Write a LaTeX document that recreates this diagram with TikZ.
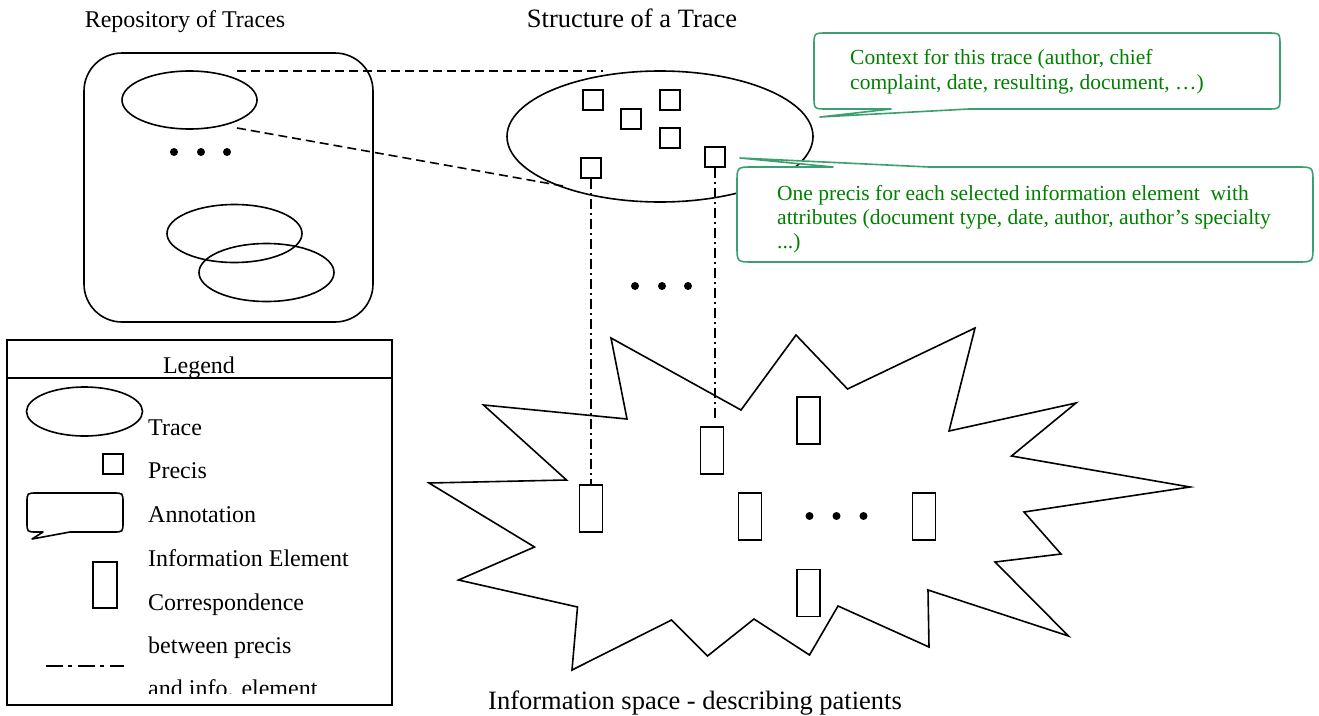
\documentclass[tikz,border=0pt]{standalone}
\usepackage{fontspec}
\setmainfont{Liberation Serif}
\usetikzlibrary{shapes.geometric}
\definecolor{cgreen}{RGB}{0,128,0}
\definecolor{cborder}{RGB}{60,160,110}
\begin{document}
\begin{tikzpicture}[x=1pt,y=-1pt,
  lw/.style={line width=1.6pt},
  trace/.style={ellipse, draw, line width=1.6pt, minimum width=135pt, minimum height=58pt, inner sep=0pt},
  precis/.style={rectangle, draw, line width=1.6pt, minimum size=20pt, inner sep=0pt},
  infoel/.style={rectangle, draw, line width=1.6pt, minimum width=23pt, minimum height=47pt, inner sep=0pt},
  link/.style={line width=1.6pt, dash pattern=on 9pt off 5pt},
  corr/.style={line width=1.6pt, dash pattern=on 10pt off 4pt on 2pt off 4pt},
  dotmark/.style={circle, fill=black, inner sep=0pt, minimum size=8pt},
  title/.style={font=\fontsize{24}{28}\selectfont, anchor=base, inner sep=0pt},
  bigtitle/.style={font=\fontsize{26.5}{30}\selectfont, anchor=base, inner sep=0pt},
  legtext/.style={font=\fontsize{24}{28}\selectfont, anchor=base west, inner sep=0pt},
  note/.style={font=\fontsize{21.5}{25}\selectfont, text=cgreen, anchor=base west, inner sep=0pt},
  callout/.style={draw=cborder, line width=1.6pt, fill=white, line join=round},
]
\useasboundingbox (0,0) rectangle (1319,715);

% titles
\node[title] (reptitle) at (185,27) {Repository of Traces};
\node[bigtitle] (strtitle) at (632,27) {Structure of a Trace};
\node[bigtitle] (infotitle) at (695,709) {Information space - describing patients};

% repository
\node[draw, line width=1.6pt, rounded corners=38pt, minimum width=289pt, minimum height=269pt, inner sep=0pt] (repo) at (228.5,187.5) {};
\node[trace] (t1) at (189.5,100) {};
\node[trace] (t2) at (234.5,233.5) {};
\node[trace] (t3) at (266.5,272.5) {};
\node[dotmark] (rd1) at (174,152) {};
\node[dotmark] (rd2) at (201,152) {};
\node[dotmark] (rd3) at (227,152) {};

% structure of a trace
\node[ellipse, draw, line width=1.6pt, minimum width=306pt, minimum height=131pt, inner sep=0pt] (big) at (660,136.5) {};
\node[precis] (p1) at (593,100) {};
\node[precis] (p2) at (670,100) {};
\node[precis] (p3) at (631,119) {};
\node[precis] (p4) at (670,138) {};
\node[precis] (p5) at (591,168) {};
\node[precis] (p6) at (715,157) {};

\coordinate (a1) at (237,71);
\coordinate (b1) at (603,71);
\coordinate (a2) at (237,128);
\coordinate (b2) at (563,186);
\draw[link] (a1) -- (b1);
\draw[link] (a2) -- (b2);

\node[dotmark] (md1) at (635,286) {};
\node[dotmark] (md2) at (662,286) {};
\node[dotmark] (md3) at (688,286) {};

% information space
\draw[lw] (611,338) -- (627,419) -- (483.5,405) -- (566.5,480) -- (429,483) -- (534.5,547) -- (458.5,580) -- (577.5,607) -- (572,670) -- (671.5,620) -- (707.5,656) -- (754,619) -- (809.5,655) -- (838,606) -- (929,647) -- (928,590) -- (1068.5,636) -- (995,562) -- (1061,554) -- (1024,512) -- (1190,487) -- (1011.5,456) -- (1076,403) -- (949,431) -- (975,328) -- (847.5,389) -- (796,335) -- (741,410) -- cycle;

\node[infoel] (e1) at (591,508.5) {};
\node[infoel] (e2) at (712,450.5) {};
\node[infoel] (e3) at (808.5,420.5) {};
\node[infoel] (e4) at (750,516.5) {};
\node[infoel] (e5) at (924,516.5) {};
\node[infoel] (e6) at (808.5,593) {};
\node[dotmark] (sd1) at (809.5,516) {};
\node[dotmark] (sd2) at (836.5,516) {};
\node[dotmark] (sd3) at (863.5,516) {};

\coordinate (c6) at (715,418);
\draw[corr] (p5.south) -- (e1.north);
\draw[corr] (p6.south) -- (c6);

% callouts
\draw[callout] (891,109) -- (820,117) -- (969,109) -- (1267,109) .. controls (1280,109) .. (1280,96) -- (1280,46) .. controls (1280,33) .. (1267,33) -- (827,33) .. controls (814,33) .. (814,46) -- (814,96) .. controls (814,109) .. (827,109) -- cycle;
\node[note] (n1a) at (850,64) {Context for this trace (author, chief};
\node[note] (n1b) at (850,89) {complaint, date, resulting, document, …)};

\draw[callout] (833,167) -- (740,158) -- (929,167) -- (1297,167) .. controls (1313,167) .. (1313,183) -- (1313,246) .. controls (1313,262) .. (1297,262) -- (753,262) .. controls (737,262) .. (737,246) -- (737,183) .. controls (737,167) .. (753,167) -- cycle;
\node[note] (n2a) at (777,200) {One precis for each selected information element\ \ with};
\node[note] (n2b) at (777,224) {attributes (document type, date, author, author’s specialty};
\node[note] (n2c) at (777,248) {...)};

% legend
\node[draw, line width=1.6pt, minimum width=385pt, minimum height=365pt, inner sep=0pt] (legend) at (199.5,522.5) {};
\coordinate (lh1) at (7,378);
\coordinate (lh2) at (392,378);
\draw[lw] (lh1) -- (lh2);
\node[title] (legtitle) at (199,373) {Legend};

\node[trace, minimum width=116pt, minimum height=49pt] (lt) at (84.5,411.5) {};
\node[precis] (lp) at (113,464) {};
\draw[draw=black, line width=1.6pt, line join=round] (70,532) -- (32,539) -- (43,532) -- (37,532) .. controls (27,532) .. (27,522) -- (27,503) .. controls (27,493) .. (37,493) -- (113,493) .. controls (123,493) .. (123,503) -- (123,522) .. controls (123,532) .. (113,532) -- cycle;
\node[infoel, minimum width=24pt, minimum height=46pt] (le) at (105,585) {};
\coordinate (lc1) at (46,666);
\coordinate (lc2) at (124,666);
\draw[line width=1.6pt, dash pattern=on 17pt off 5pt on 4pt off 6pt] (lc1) -- (lc2);

\node[legtext] (lt1) at (148,435) {Trace};
\node[legtext] (lt2) at (148,478) {Precis};
\node[legtext] (lt3) at (148,522) {Annotation};
\node[legtext] (lt4) at (148,566) {Information Element};
\node[legtext] (lt5) at (148,610) {Correspondence};
\node[legtext] (lt6) at (148,653) {between precis};
\begin{scope}
\clip (8,600) rectangle (391,693);
\node[legtext] (lt7) at (148,696) {and info. element};
\end{scope}
\end{tikzpicture}
\end{document}
